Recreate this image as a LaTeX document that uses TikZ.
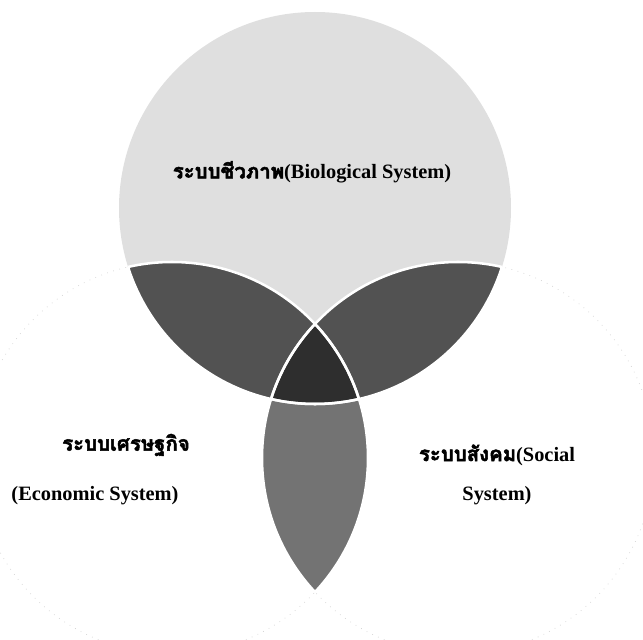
\documentclass[tikz,border=0pt]{standalone}
\usepackage{fontspec}
\setmainfont{Liberation Serif}
\newfontfamily\thaifont[Script=Thai,FakeBold=2.5]{Loma}

\begin{document}
\begin{tikzpicture}[
    vtext/.style={font=\fontsize{14.5}{17}\selectfont\bfseries, inner sep=0pt},
    rim/.style={draw=white, line width=1.8pt},
    edge/.style={draw=gray!35, loosely dotted, line width=0.5pt}
]
    \useasboundingbox (0,0) rectangle (16.075,-16);

    \coordinate (T) at (7.875,-5.2);
    \coordinate (L) at (4.3,-11.45);
    \coordinate (R) at (11.45,-11.45);

    % faint outer rims of the two lower circles
    \draw[edge] (L) circle (4.9);
    \draw[edge] (R) circle (4.9);

    % biological circle and its overlaps
    \fill[gray!25] (T) circle (4.9);
    \begin{scope}
        \clip (T) circle (4.9);
        \fill[black!68] (L) circle (4.9);
        \fill[black!68] (R) circle (4.9);
    \end{scope}
    \begin{scope}
        \clip (L) circle (4.9);
        \fill[black!55] (R) circle (4.9);
    \end{scope}
    \begin{scope}
        \clip (T) circle (4.9);
        \clip (L) circle (4.9);
        \fill[black!82] (R) circle (4.9);
    \end{scope}

    % white seams between the regions
    \begin{scope}
        \clip (T) circle (4.9);
        \draw[rim] (L) circle (4.9);
        \draw[rim] (R) circle (4.9);
    \end{scope}
    \begin{scope}
        \clip (L) circle (4.9);
        \draw[rim] (T) circle (4.9);
        \draw[rim] (R) circle (4.9);
    \end{scope}
    \begin{scope}
        \clip (R) circle (4.9);
        \draw[rim] (T) circle (4.9);
        \draw[rim] (L) circle (4.9);
    \end{scope}

    \node[vtext] (bio) at (7.8,-4.3) {{\thaifont ระบบชีวภาพ}(Biological System)};
    \node[vtext] (econ) at (3.15,-11.125) {\thaifont ระบบเศรษฐกิจ};
    \node[vtext] (econen) at (2.375,-12.4) {(Economic System)};
    \node[vtext] (social) at (12.425,-11.375) {{\thaifont ระบบสังคม}(Social};
    \node[vtext] (socialen) at (12.425,-12.4) {System)};

\end{tikzpicture}
\end{document}
